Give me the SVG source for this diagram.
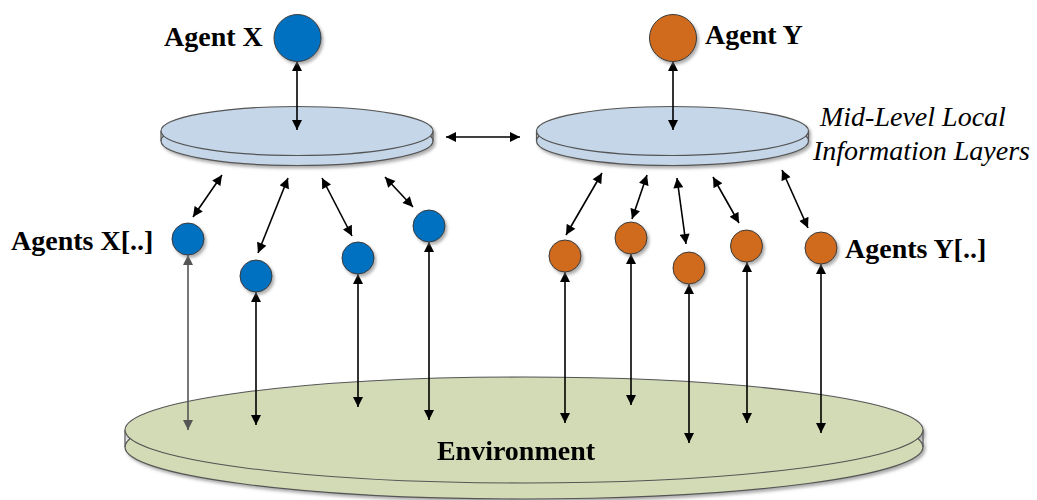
<svg xmlns="http://www.w3.org/2000/svg" width="1037" height="500" viewBox="0 0 1037 500">
  <style>
    .lbl { font-family: "Liberation Serif", "Times New Roman", serif; font-size: 28px; fill: #000; }
    .bold { font-weight: bold; }
    .ital { font-style: italic; }
    .agentX { fill: #0070c0; stroke: #3a3a3a; stroke-width: 1; }
    .agentY { fill: #d06b1c; stroke: #3a3a3a; stroke-width: 1; }
    .layer { fill: #c4d6e8; stroke: #555; stroke-width: 1.2; }
    .env { fill: #d2dbb5; stroke: #555; stroke-width: 1.2; }
    .edge { stroke: #555; stroke-width: 1.2; }
    .link { stroke: #000; stroke-width: 1.6; fill: none; marker-start: url(#head); marker-end: url(#head); }
    .link.grey { stroke: #555; marker-start: url(#headGrey); marker-end: url(#headGrey); }
  </style>
  <defs>
    <marker id="head" viewBox="0 0 10 10" refX="10" refY="5" markerWidth="11" markerHeight="10" markerUnits="userSpaceOnUse" orient="auto-start-reverse">
      <path d="M0,0 L10,5 L0,10 Z" fill="#000"/>
    </marker>
    <marker id="headGrey" viewBox="0 0 10 10" refX="10" refY="5" markerWidth="11" markerHeight="10" markerUnits="userSpaceOnUse" orient="auto-start-reverse">
      <path d="M0,0 L10,5 L0,10 Z" fill="#555"/>
    </marker>
    <filter id="shadow" x="-20%" y="-20%" width="150%" height="150%">
      <feDropShadow dx="2" dy="2.5" stdDeviation="1.5" flood-color="#777" flood-opacity="0.6"/>
    </filter>
  </defs>

  <rect width="1037" height="500" fill="#fff"/>

  <!-- Environment disk -->
  <g id="environment" filter="url(#shadow)">
    <ellipse class="env" cx="524" cy="447" rx="399" ry="52"/>
    <line class="edge" x1="125" y1="430" x2="125" y2="447"/>
    <line class="edge" x1="923" y1="430" x2="923" y2="447"/>
    <ellipse class="env" cx="524" cy="430" rx="399" ry="53"/>
    <text class="lbl bold" x="516" y="460" text-anchor="middle">Environment</text>
  </g>

  <!-- Local information layer for X -->
  <g id="layerX" filter="url(#shadow)">
    <ellipse class="layer" cx="297" cy="141" rx="136" ry="24.5"/>
    <line class="edge" x1="161" y1="131" x2="161" y2="141"/>
    <line class="edge" x1="433" y1="131" x2="433" y2="141"/>
    <ellipse class="layer" cx="297" cy="131" rx="136" ry="24.5"/>
  </g>

  <!-- Local information layer for Y -->
  <g id="layerY" filter="url(#shadow)">
    <ellipse class="layer" cx="672.5" cy="141" rx="136" ry="24.5"/>
    <line class="edge" x1="536.5" y1="131" x2="536.5" y2="141"/>
    <line class="edge" x1="808.5" y1="131" x2="808.5" y2="141"/>
    <ellipse class="layer" cx="672.5" cy="131" rx="136" ry="24.5"/>
  </g>
  <text class="lbl ital" x="820" y="126">Mid-Level Local</text>
  <text class="lbl ital" x="813" y="160">Information Layers</text>

  <!-- Connectors -->
  <g id="connectors">
    <line class="link" x1="297" y1="61" x2="297" y2="130"/>
    <line class="link" x1="673" y1="61" x2="673" y2="130"/>
    <line class="link" x1="446" y1="137" x2="520" y2="137"/>

    <line class="link" x1="222" y1="175" x2="193" y2="217"/>
    <line class="link" x1="288" y1="178" x2="258" y2="253"/>
    <line class="link" x1="322" y1="178" x2="352" y2="236"/>
    <line class="link" x1="385" y1="177" x2="413" y2="207"/>

    <line class="link" x1="602" y1="173" x2="566" y2="235"/>
    <line class="link" x1="647" y1="175" x2="632" y2="219"/>
    <line class="link" x1="677" y1="178" x2="686" y2="244"/>
    <line class="link" x1="713" y1="177" x2="739" y2="223"/>
    <line class="link" x1="782" y1="170" x2="808" y2="228"/>

    <line class="link grey" x1="188" y1="255" x2="188" y2="430"/>
    <line class="link" x1="256" y1="292" x2="256" y2="425"/>
    <line class="link" x1="358" y1="274" x2="358" y2="407"/>
    <line class="link" x1="429" y1="242" x2="429" y2="420"/>

    <line class="link" x1="565" y1="272" x2="565" y2="423"/>
    <line class="link" x1="631" y1="254" x2="631" y2="405"/>
    <line class="link" x1="689" y1="284" x2="689" y2="443"/>
    <line class="link" x1="747" y1="262" x2="747" y2="423"/>
    <line class="link" x1="821" y1="264" x2="821" y2="433"/>
  </g>

  <!-- Agent X -->
  <g id="agentX">
    <circle class="agentX" cx="297.5" cy="38" r="23.5" filter="url(#shadow)"/>
    <text class="lbl bold" x="164" y="46">Agent X</text>
  </g>

  <!-- Agent Y -->
  <g id="agentY">
    <circle class="agentY" cx="673" cy="38" r="23.5" filter="url(#shadow)"/>
    <text class="lbl bold" x="705" y="44">Agent Y</text>
  </g>

  <!-- Agents X[..] -->
  <g id="agentsX">
    <circle class="agentX" cx="188" cy="239" r="16" filter="url(#shadow)"/>
    <circle class="agentX" cx="256" cy="276" r="16" filter="url(#shadow)"/>
    <circle class="agentX" cx="358" cy="258" r="16" filter="url(#shadow)"/>
    <circle class="agentX" cx="429" cy="226" r="16" filter="url(#shadow)"/>
    <text class="lbl bold" x="11" y="250">Agents X[..]</text>
  </g>

  <!-- Agents Y[..] -->
  <g id="agentsY">
    <circle class="agentY" cx="565" cy="256" r="16" filter="url(#shadow)"/>
    <circle class="agentY" cx="631" cy="238" r="16" filter="url(#shadow)"/>
    <circle class="agentY" cx="689" cy="268" r="16" filter="url(#shadow)"/>
    <circle class="agentY" cx="746.5" cy="246" r="16" filter="url(#shadow)"/>
    <circle class="agentY" cx="821" cy="248" r="16" filter="url(#shadow)"/>
    <text class="lbl bold" x="845" y="258">Agents Y[..]</text>
  </g>
</svg>
